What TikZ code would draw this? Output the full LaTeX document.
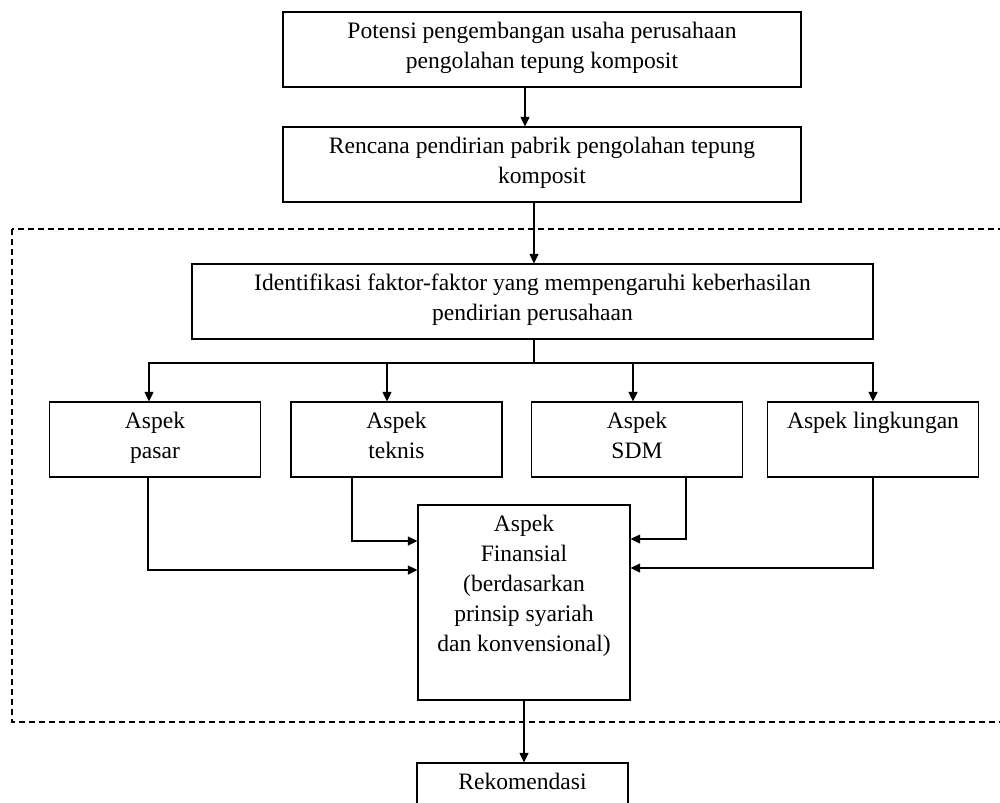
\documentclass[tikz,border=0pt]{standalone}
\usepackage{fontspec}
\setmainfont{Liberation Serif}
\usetikzlibrary{arrows.meta}

\begin{document}
\begin{tikzpicture}[>={Triangle[length=0.19cm,width=0.18cm]}, line width=0.7pt,
    font=\fontsize{13.4}{17}\selectfont]

      \useasboundingbox (0,0) rectangle (20,-16.04);

      % dashed frame round the analysis part
      \draw[dash pattern=on 0.12cm off 0.08cm, line width=0.6pt] (0.24,-4.58) rectangle (20.3,-14.44);

      \begin{scope}[every node/.style={draw,rectangle,align=center,minimum height=1.5cm}]
        \node[minimum width=10.36cm] (potensi)      at (10.84,-0.99) {Potensi pengembangan usaha perusahaan\\pengolahan tepung komposit\strut};
        \node[minimum width=10.36cm] (rencana)      at (10.84,-3.29) {Rencana pendirian pabrik pengolahan tepung\\komposit\strut};
        \node[minimum width=13.62cm] (identifikasi) at (10.65,-6.03) {Identifikasi faktor-faktor yang mempengaruhi keberhasilan\\pendirian perusahaan\strut};
        \node[minimum width=4.22cm]  (pasar)        at (3.10,-8.79)  {Aspek\\pasar\strut};
        \node[minimum width=4.22cm]  (teknis)       at (7.93,-8.79)  {Aspek\\teknis\strut};
        \node[minimum width=4.22cm]  (sdm)          at (12.74,-8.79) {Aspek\\SDM\strut};
        \node[minimum width=4.22cm]  (lingkungan)   at (17.46,-8.79) {Aspek lingkungan\\\strut};
        \node[minimum width=4.24cm, minimum height=3.9cm] (finansial) at (10.48,-12.05)
          {Aspek\\Finansial\\(berdasarkan\\prinsip syariah\\dan konvensional)\\\strut};
        \node[minimum width=4.22cm]  (rekomendasi)  at (10.45,-16.01) {Rekomendasi\\\strut};
      \end{scope}

      \coordinate (cabang) at (10.68,-7.26);

      \begin{scope}[->]
        \draw ([xshift=-0.34cm]potensi.south) -- ([xshift=-0.34cm]rencana.north);
        \draw (rencana.south -| cabang) -- (identifikasi.north -| cabang);
        \draw[-] (identifikasi.south -| cabang) -- (cabang);
        \draw (cabang) -| ([xshift=-0.12cm]pasar.north);
        \draw (cabang) -| ([xshift=-0.19cm]teknis.north);
        \draw (cabang) -| ([xshift=-0.08cm]sdm.north);
        \draw (cabang) -| (lingkungan.north);

        \draw ([xshift=-0.14cm]pasar.south) |- ([yshift=0.65cm]finansial.west);
        \draw ([xshift=-0.89cm]teknis.south) |- ([yshift=1.23cm]finansial.west);
        \draw ([xshift=0.98cm]sdm.south) |- ([yshift=1.27cm]finansial.east);
        \draw (lingkungan.south) |- ([yshift=0.69cm]finansial.east);
        \draw (finansial.south) -- (finansial.south |- rekomendasi.north);
      \end{scope}

    \end{tikzpicture}
\end{document}
